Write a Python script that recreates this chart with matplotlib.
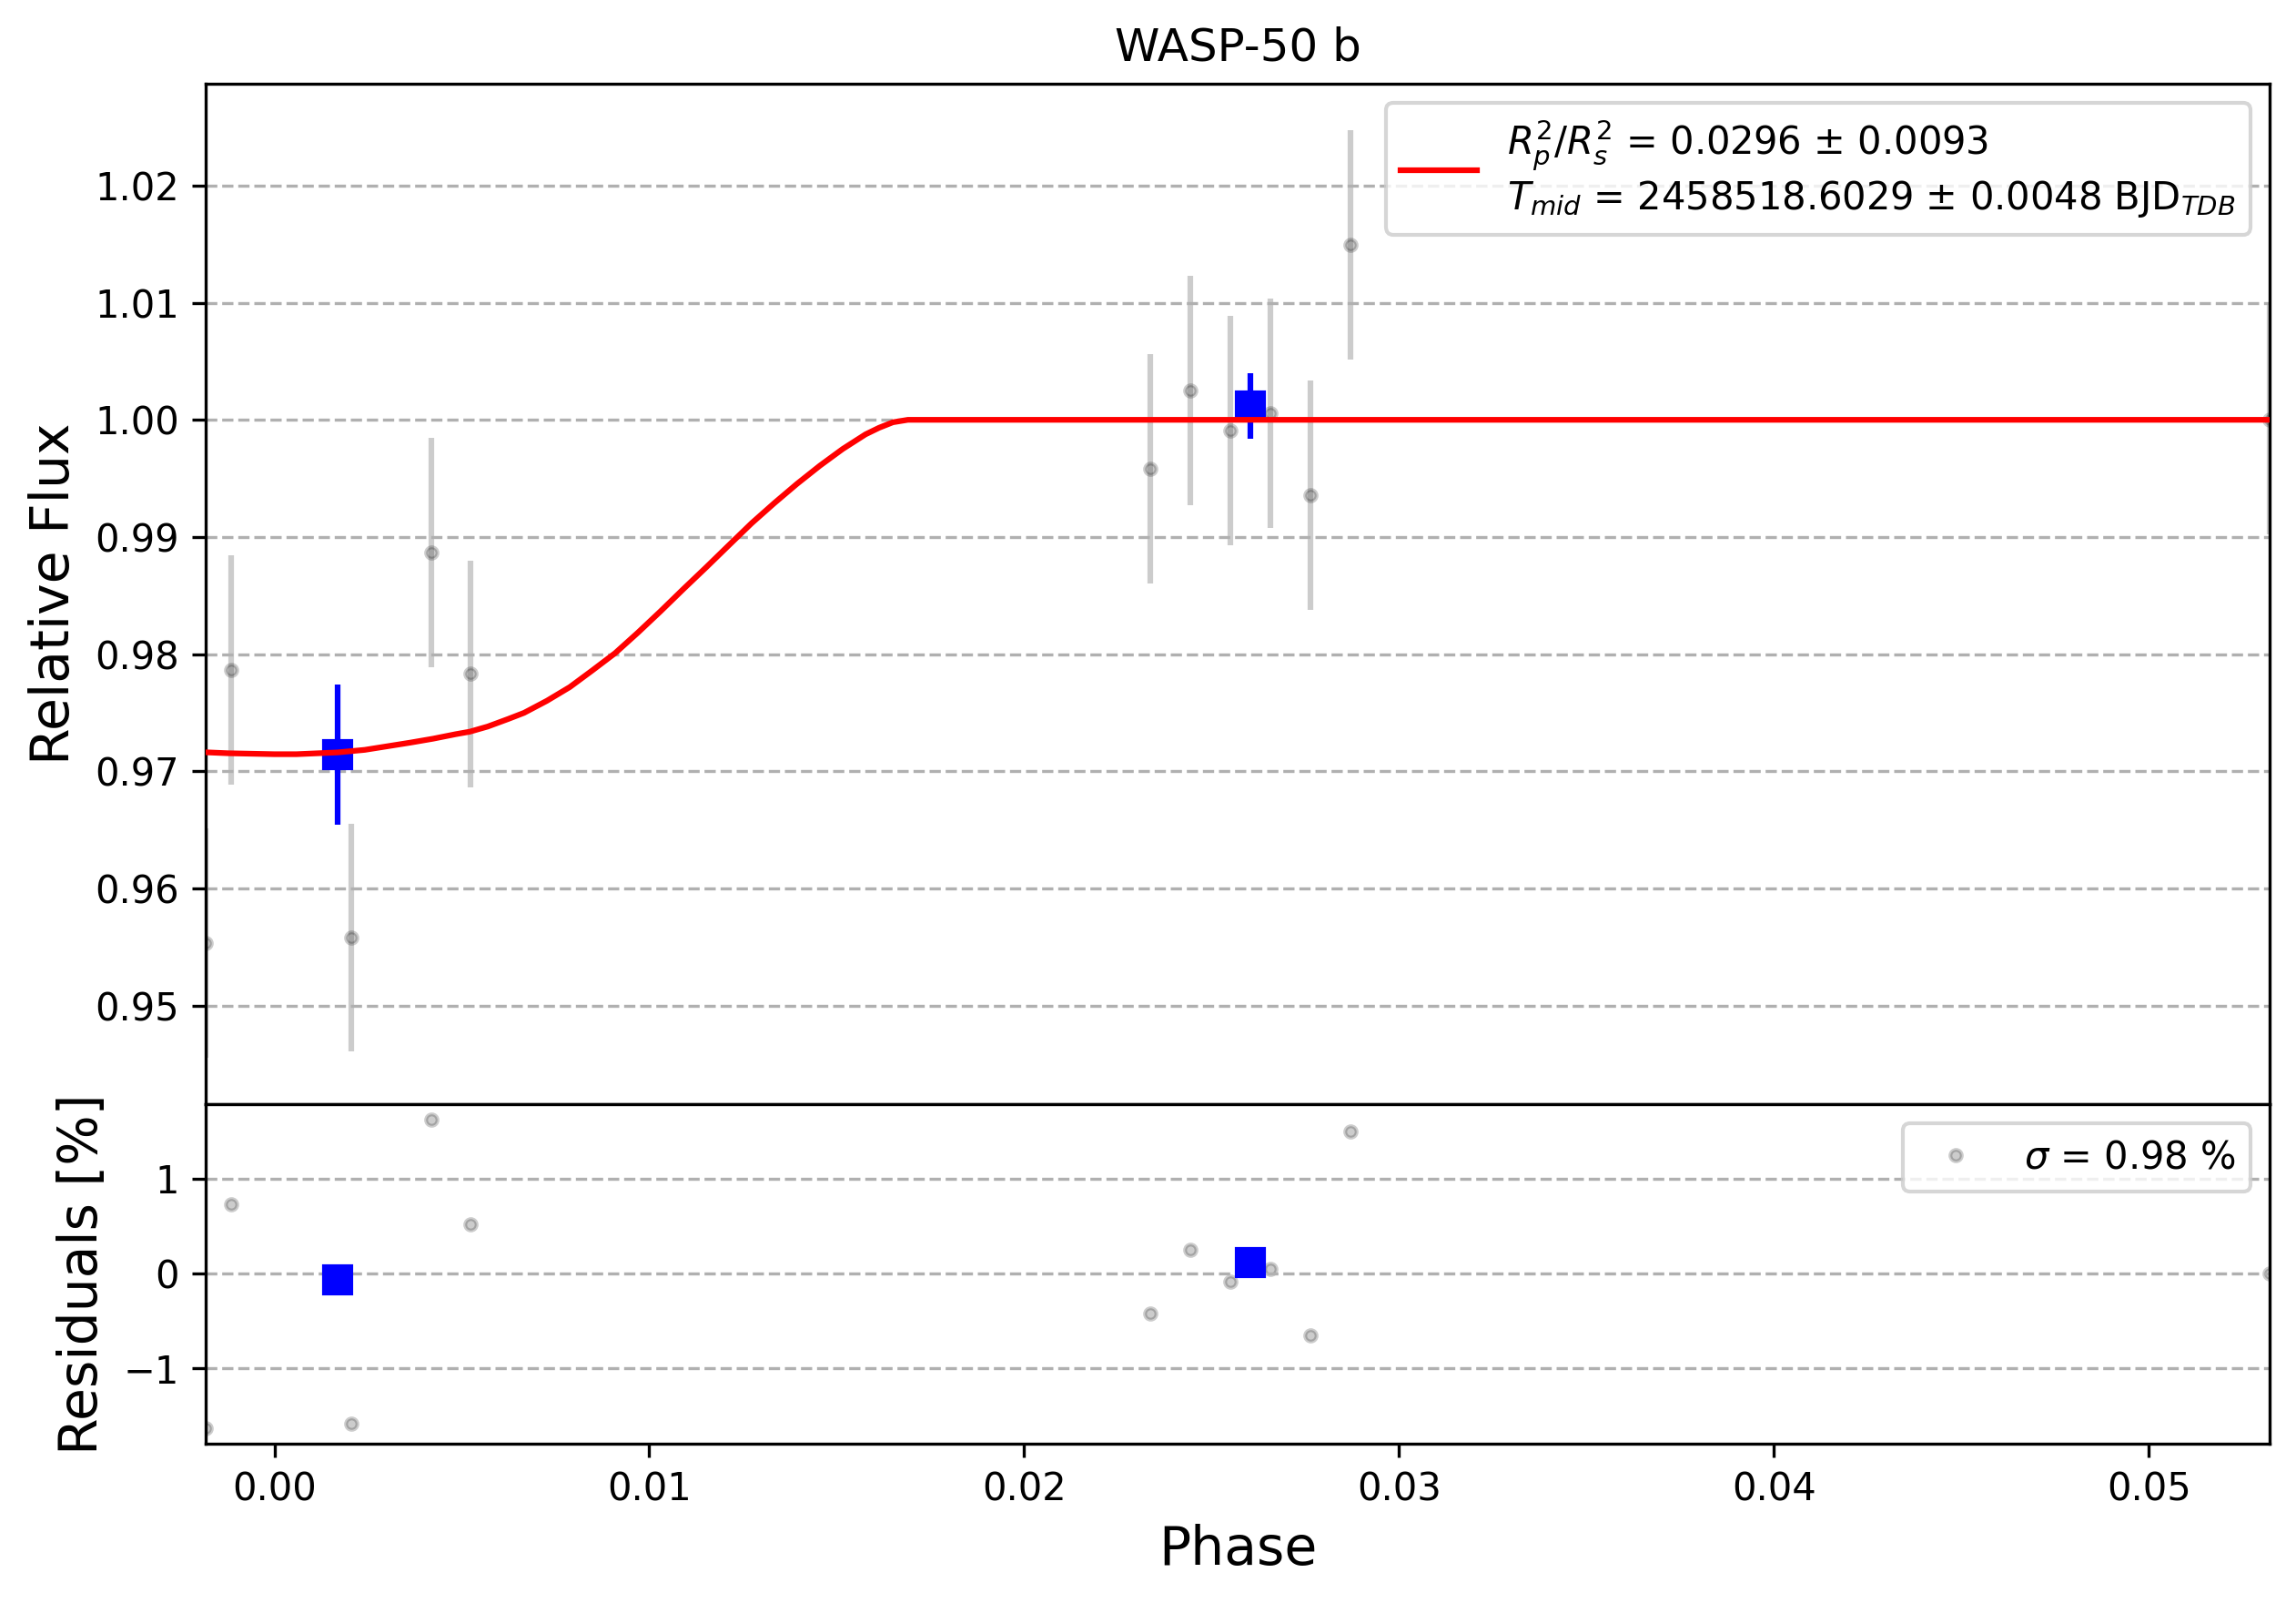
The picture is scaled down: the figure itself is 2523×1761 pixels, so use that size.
import numpy as np
import matplotlib
matplotlib.use("Agg")
import matplotlib.pyplot as plt

# ---- data ----
phase = [-0.001826, -0.001156, 0.00205, 0.00419, 0.00523,
         0.02337, 0.02444, 0.02551, 0.02657, 0.02764, 0.02871, 0.05323]
flux = [0.9553, 0.97866, 0.95580, 0.98866, 0.97830,
        0.99580, 1.00250, 0.99907, 1.00053, 0.99354, 1.01493, 1.0000]
flux_err = [0.0098, 0.0098, 0.0097, 0.0098, 0.0097,
            0.0098, 0.0098, 0.0098, 0.0098, 0.0098, 0.0098, 0.0098]
residuals = [-1.63, 0.73, -1.58, 1.62, 0.52,
             -0.42, 0.25, -0.09, 0.05, -0.65, 1.49, 0.0]

bin_phase = [0.001685, 0.026035]
bin_flux = [0.97143, 1.00115]
bin_err = [0.0060, 0.0028]
bin_resid = [-0.067, 0.11]

model_phase = [-0.001826, -0.00123, 0.0, 0.00059, 0.00168, 0.00241, 0.00302,
               0.00363, 0.00423, 0.00484, 0.00521, 0.00569, 0.00624, 0.00666,
               0.00727, 0.00788, 0.00848, 0.00909, 0.00970, 0.01030, 0.01091,
               0.01152, 0.01212, 0.01273, 0.01334, 0.01394, 0.01455, 0.01516,
               0.01577, 0.01613, 0.01650, 0.01690, 0.05323]
model_flux = [0.97161, 0.97153, 0.97145, 0.97145, 0.97160, 0.97182, 0.97213,
              0.97244, 0.97277, 0.97316, 0.97337, 0.97381, 0.97446, 0.97498,
              0.97601, 0.97718, 0.97860, 0.98008, 0.98184, 0.98365, 0.98555,
              0.98741, 0.98928, 0.99117, 0.99290, 0.99453, 0.99608, 0.99751,
              0.99876, 0.99932, 0.99979, 1.00000, 1.00000]

title = "WASP-50 b"
lc_label = (r"$R^{2}_{p}/R^{2}_{s}$ = 0.0296 ± 0.0093" + "\n" +
            r"$T_{mid}$ = 2458518.6029 ± 0.0048 BJD$_{TDB}$")
res_label = r"$\sigma$ = 0.98 %"

# ---- figure ----
fig = plt.figure(figsize=(2523 / 300, 1761 / 300), dpi=300)
gs = fig.add_gridspec(2, 1, height_ratios=[3, 1], hspace=0.0,
                      left=0.0897, right=0.9886, top=0.9478, bottom=0.0991)
ax_lc = fig.add_subplot(gs[0])
ax_res = fig.add_subplot(gs[1], sharex=ax_lc)

# light curve panel
ax_lc.errorbar(phase, flux, yerr=flux_err, ls='none', marker='o', color='black',
               alpha=0.2, ms=3, zorder=1)
ax_lc.errorbar(bin_phase, bin_flux, yerr=bin_err, fmt='s', color='blue',
               ms=7, zorder=2)
ax_lc.plot(model_phase, model_flux, color='red', lw=1.5, zorder=3, label=lc_label)
ax_lc.set_title(title, fontsize=12)
ax_lc.set_ylabel("Relative Flux", fontsize=14)
ax_lc.grid(True, axis='y', ls='--')
ax_lc.tick_params(axis='x', bottom=False, labelbottom=False)
ax_lc.set_ylim(0.94158, 1.0287)
ax_lc.legend(loc='upper right', fontsize=10)

# residual panel
ax_res.plot(phase, residuals, ls='none', marker='o', color='black', alpha=0.2,
            ms=3, label=res_label, zorder=1)
ax_res.plot(bin_phase, bin_resid, ls='none', marker='s', color='blue', ms=7, zorder=2)
ax_res.grid(True, axis='y', ls='--')
ax_res.set_ylabel("Residuals [%]", fontsize=14)
ax_res.set_xlabel("Phase", fontsize=14)
ax_res.set_ylim(-1.796, 1.782)
ax_res.set_yticks([-1, 0, 1])
ax_res.legend(loc='upper right', fontsize=10)

ax_res.set_xlim(min(phase), max(phase))

fig.savefig("out.png", dpi=300)
